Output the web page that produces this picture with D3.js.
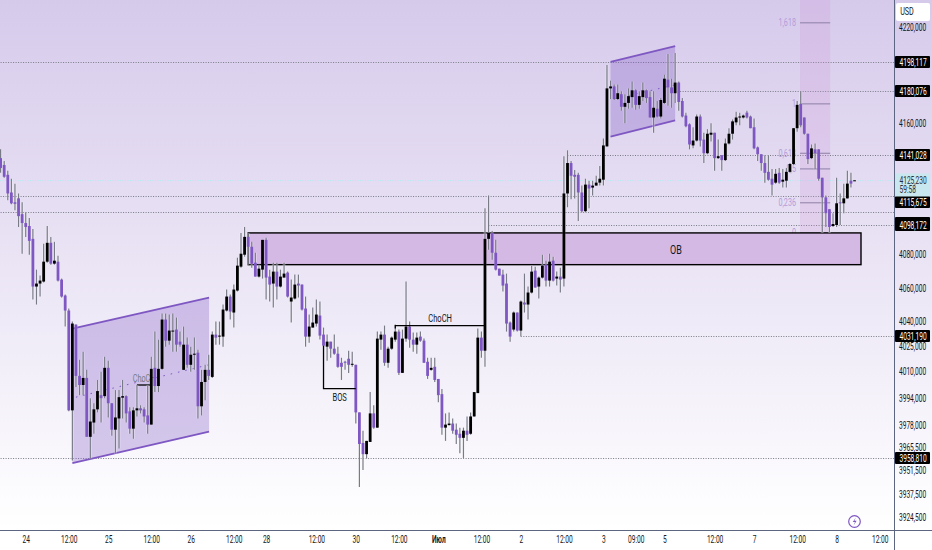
<!DOCTYPE html>
<html>
<head>
<meta charset="utf-8">
<script src="https://cdn.jsdelivr.net/npm/d3@7"></script>
<style>
  html, body { margin: 0; padding: 0; background: #fff; overflow: hidden; }
  text { font-family: Roboto, "Liberation Sans", sans-serif; }
</style>
</head>
<body>
<svg id="chart" width="932" height="550"></svg>
<script>
// Hourly candles (index 0 = leftmost candle)
const opens = [
4138.8,4134.6,4128.6,4117.8,4111.8,4114.2,4104.6,4099.2,4097.4,4089.6,
4060.8,4062.6,4063.8,4075.8,4087.2,4074.6,4075.8,4065,4055.4,4046.4,
3987,4038,4007.4,4002,4006.2,3971.4,3979.8,3987.6,3996,3995.4,
4012.2,3991.2,3975.6,3982.2,3994.5,3995.4,3986.4,3976.2,3987,3988.2,
3987.6,3984,3978.6,4012.2,4001.4,4011.6,4041,4028.4,4033.8,4035,
4027.8,4011,4026,4014,4020,4021.2,3989.4,4003.8,4011,4006.8,
4032,4030.8,4030.8,4046.4,4054.8,4045.2,4058.4,4072.8,4080,4090.8,
4084.8,4075.2,4066.8,4071,4089,4066.8,4062.6,4069.8,4060.8,4066.2,
4069.2,4051.8,4053.6,4062.6,4062,4047.6,4030.8,4036.2,4038.6,4043.4,
4032,4024.8,4027.8,4023.6,4020.6,4015.2,4015.8,4017.6,4014,4014,
3985.8,3967.8,3961.2,3968.4,3985.2,3976.8,4029,4032,4015.2,4023.6,
4029,4033.8,4009.2,4029.6,4036.8,4029,4026,4030.8,4028.4,4015.8,
4011,4012.8,4005.6,3996.6,3976.8,3978.3,3979.2,3975.6,3973.2,3970.8,
3975,3973.2,3983.4,3997.2,4030.2,4022.4,4089.6,4093.2,4081.2,4071.6,
4068,4062.6,4039.2,4035,4045.2,4034.4,4051.2,4050,4057.2,4070.4,
4060.8,4066.2,4074,4064.4,4076.4,4065.6,4066.8,4065.6,4117.2,4135.8,
4128.6,4128.6,4117.8,4106.4,4122.6,4120.8,4122,4123.8,4125.6,4146,
4181.8,4183,4175.2,4178.2,4170.4,4172.8,4176.4,4180.6,4171.6,4176.4,
4180.6,4176.4,4163.8,4169.2,4164.4,4172.8,4187.2,4182.4,4178.8,4185.4,
4174,4165,4159.6,4146.6,4149.6,4164.4,4150.2,4141.8,4153.2,4154.4,
4138.8,4140.6,4137.6,4147.8,4153.8,4160.8,4163.8,4163.8,4166.8,4164.4,
4157.8,4145.4,4141.2,4135.8,4130.4,4126.2,4123.8,4129.8,4124.4,4125,
4130.4,4135.2,4157.2,4172.2,4163.8,4153.8,4138.8,4144.2,4144.2,4126.8,
4114.8,4107.6,4097.4,4098,4111.8,4111.2,4114.2,4125,4125];
const highs = [
4144.2,4137,4131,4126.2,4123.2,4117.2,4111.8,4105.8,4102.2,4095.6,
4071,4067.4,4086.6,4097.4,4090.8,4087.8,4079.4,4065.6,4056,4047.6,
4039.8,4038,4017,4021.8,4011,3994.2,3991.2,4005,4009.8,4018.8,
4016.4,3991.2,3999,3999,4005,3996,3988.8,3988.8,4002,3990,
3988.8,4002,4018.8,4033.8,4029,4044.6,4044.6,4044,4044.6,4042.2,
4033.8,4036.8,4030.2,4024.8,4030.2,4023,4011,4014,4020,4033.8,
4039.8,4039.8,4050,4059,4056,4062,4078.2,4093.2,4096.8,4093.2,
4087.8,4081.2,4074,4089,4090.2,4071,4075.2,4075.2,4071,4075.2,
4069.8,4065,4068,4068,4062,4054.8,4044,4048.2,4053,4051.8,
4036.2,4032,4027.8,4032,4024.8,4018.2,4016.4,4022.4,4021.8,4014,
3985.8,3975,3969,3997.8,3990,4033.8,4033.8,4037.4,4024.8,4030.8,
4038,4035,4035,4063.8,4039.8,4033.2,4033.2,4033.8,4029.6,4018.2,
4018.2,4018.2,4005.6,3999.6,3985.2,3985.8,3982.2,3979.2,3976.8,3976.8,
3983.4,3985.8,3997.8,4035.6,4033.8,4108.2,4116,4094.4,4089,4071.6,
4071,4068.6,4039.8,4045.8,4045.2,4052.4,4068.6,4060.8,4073.4,4072.8,
4066.8,4080,4076.4,4080.6,4078.8,4069.8,4072.2,4140,4143.6,4137,
4131.6,4129.8,4122,4126.2,4125,4125,4128,4134,4150.8,4196.3,
4186.6,4184.2,4184.2,4180,4178.2,4181.8,4186,4181.2,4180,4185.4,
4181.2,4180,4180,4174,4175.8,4190.2,4203.2,4187.8,4203.8,4186,
4175.8,4166.8,4160.2,4157.8,4165.6,4165.6,4154.4,4156.6,4160.2,4154.4,
4150.2,4140.6,4150.8,4157.2,4162.6,4167.4,4166.8,4165.6,4168,4165,
4163.2,4146,4141.2,4140.6,4140.6,4132.2,4132.2,4132.8,4132.2,4132.8,
4135.8,4157.2,4174,4180,4163.8,4153.8,4147.2,4147.8,4144.2,4126.8,
4116,4107.6,4105.2,4126.8,4117.2,4123.2,4131,4129.8,4125.23];
const lows = [
4129.8,4126.8,4113,4110.6,4107,4096.8,4080.6,4090.8,4080,4053,
4050,4054.8,4063.2,4075.2,4074,4074,4063.8,4054.2,4036.8,3986.4,
3957.5,4000.8,3996,3996,3971.4,3958.7,3973.2,3985.8,3979.8,3994.2,
3982.8,3972,3961.5,3964.5,3982.2,3979.8,3973.2,3970.2,3983.4,3985.2,
3979.8,3973.2,3978.6,3997.8,3997.8,4011,4024.8,4026,4021.8,4021.8,
4024.8,4011,4012.2,4009.8,4011,3982.2,3984,3993,4005,4006.2,
4026,4026,4024.8,4045.8,4041,4036.2,4057.8,4072.2,4078.8,4074,
4072.2,4066.8,4066.2,4065.6,4053,4051.8,4048.2,4053,4060.2,4066.2,
4054.2,4039.2,4053,4054.2,4046.4,4024.8,4027.2,4036.2,4036.8,4029,
4024.8,4016.4,4018.2,4020,4012.2,4005,4011,4009.2,4012.8,3979.2,
3942,3951.9,3958.7,3968.4,3976.2,3976.8,4023,4013.4,4012.2,4023,
4027.8,4008,4009.2,4027.8,4024.2,4021.8,4020.6,4027.8,4015.2,4005.6,
4010.4,4003.8,3991.8,3972.6,3969,3978,3973.2,3967.2,3961.8,3959,
3969,3972.6,3983.4,3997.2,4018.2,4012.8,4083,4077,4070.4,4067.4,
4057.8,4033.8,4027.8,4033.8,4033.8,4030.8,4045.2,4041,4056.6,4060.2,
4053.6,4065.6,4060.8,4060.8,4063.8,4061.4,4057.2,4060.8,4108.8,4113.6,
4114.2,4100.4,4105.8,4105.8,4108.2,4116,4122,4122,4122,4146,
4175.2,4174.6,4174.6,4168,4160.2,4169.2,4169.8,4168.6,4169.2,4174,
4172.8,4163.8,4154.4,4163.8,4163.2,4172.2,4171,4169.8,4172.8,4168,
4163.8,4157.8,4144.2,4144.8,4149,4146,4135.8,4141.2,4149,4131,
4138.2,4131,4137,4147.2,4150.2,4159,4159,4163.2,4163.2,4157.2,
4144.2,4137,4131,4123.8,4125,4116,4123.2,4123.2,4120.8,4120.8,
4129.8,4134.6,4155,4157.8,4153.2,4135.2,4138.2,4132.2,4125,4093.2,
4096.8,4093.2,4096.8,4096.8,4098,4105.2,4114.2,4120.8,4124.9];
const closes = [
4132.8,4127.4,4117.2,4111.2,4110.9,4103.4,4099.2,4096.8,4088.4,4060.8,
4062.6,4064.4,4075.8,4087.2,4074.6,4076.4,4064.4,4054.8,4046.4,3987,
4038.6,4007.4,4002,4006.2,3971.4,3980.4,3987.6,3998.4,3994.2,4012.2,
3991.2,3975.6,3982.8,3994.8,3995.4,3985.2,3976.2,3987,3988.2,3987,
3983.4,3978.6,4011.6,4001.4,4011.6,4041,4028.4,4034.4,4034.4,4026,
4026,4026,4014,4020,4020.6,3989.4,4003.8,4011,4007.4,4032,
4030.2,4031.4,4047,4054.8,4045.8,4059,4073.4,4080.6,4090.8,4084.8,
4074.6,4066.8,4071.6,4089,4066.2,4062,4069.8,4060.8,4066.8,4068.6,
4054.8,4054.2,4062,4061.4,4047,4030.8,4036.8,4039.2,4044,4031.4,
4025.4,4027.8,4023.6,4020.6,4012.8,4012.8,4015.2,4014,4014.6,3985.8,
3967.2,3961.2,3969,3985.2,3976.8,4029.6,4032,4015.2,4023.6,4030.2,
4033.8,4009.2,4029.6,4036.8,4029,4026,4030.2,4028.4,4015.2,4007.4,
4012.2,4005,3996,3976.8,3978.6,3979.2,3975,3972.6,3970.8,3975,
3972.6,3983.4,3997.8,4030.2,4022.4,4089.6,4093.2,4081.2,4071,4067.4,
4061.4,4038.6,4030.8,4045.2,4034.4,4051.8,4050,4057.2,4069.8,4060.2,
4066.2,4073.4,4064.4,4075.8,4064.4,4066.8,4065,4117.2,4135.8,4128,
4127.4,4117.8,4106.4,4122.6,4120.2,4122,4123.8,4126.2,4146.6,4181.8,
4183,4175.2,4178.8,4170.4,4172.8,4177,4180.6,4171.6,4177,4180.6,
4175.8,4163.8,4169.8,4164.4,4174.6,4187.8,4182.4,4178.8,4185.4,4173.4,
4164.4,4158.4,4147.2,4149.6,4164.4,4149.6,4141.8,4153.8,4154.4,4138.8,
4140,4137.6,4147.8,4153.8,4161.4,4163.8,4164.4,4165,4163.8,4157.2,
4144.8,4141.2,4135.8,4129.8,4125.6,4122.6,4129.2,4123.8,4125.6,4130.4,
4135.2,4157.2,4171.6,4159,4153.8,4138.2,4144.8,4141.8,4126.2,4114.8,
4105.2,4096.8,4098.6,4111.2,4111.2,4114.2,4123.2,4123.2,4125.23];

// Axis ticks
const xTickIndex = [7,19,30,42,53,65,74,88,99,111,122,134,145,157,168,177,185,199,210,222,233,245];
const xTickLabels = ["24","12:00","25","12:00","26","12:00","28","12:00","30","12:00","Июл","12:00","2","12:00","3","09:00","5","12:00","7","12:00","8","12:00"];
const yTicks = [4220,4160,4080,4060,4040,4025,4010,3994,3978,3965.5,3951.5,3937.5,3924.5];

// Dotted price levels and the candle they start from
const levelPrices = [4198.117,4180.076,4141.028,4115.675,4105.8,4098.172,4031.19,3958.81];
const levelStarts = [0,188,158,0,0,136,145,0];
const lastPrice = 4125.23;
const countdown = "59:58";

// Black price tags on the axis (tag text is the level; nudge = label pushed off its level)
const tagPrices = [4198.117,4180.076,4141.028,4105.8,4115.675,4098.172,4031.19,3958.81];
const tagNudge = [0,0,0,11,6,0,0,0];

// Drawings, [candle index, price]
const channelA = [[20,4035.6],[58.1,4054.2],[58.1,3974.4],[20,3956]];
const channelAMid = [[21,3994.8],[58,4014]];
const channelB = [[170,4198.2],[188,4208.1],[188,4162],[170,4152]];
const channelBMid = [[171,4175.2],[188,4184]];
const chochSmall = [[38,4002],[42,4002]];
const chochBig = [[110,4035.6],[110,4037.4],[135,4037.4]];
const bosLine = [[90,4025.4],[90,3999.8],[99,3999.8]];
const obBox = [[69,4093.2],[239.8,4074]];

// Fibonacci block
const fibIndex = [222.8,231.2];
const fibTop = 4237;
const fibPrices = [4222.6,4172.2,4141.8,4132.2,4111.5,4093.2];
const fibLabels = ["1,618","1","0,618","0,5","0,236","0"];

const width = 932, height = 550, axisX = 894, axisY = 530;
const purple = "#7e57c2", wick = "#787b86", axisColor = "#5d6680";

const svg = d3.select("#chart");

const x = d3.scaleLinear().domain([0, 238]).range([0.6, 0.6 + 238 * 3.588]);
const y = d3.scaleLog().domain([4220, 3924.5]).range([27, 517]);

// Background
const defs = svg.append("defs");
const grad = defs.append("linearGradient").attr("id", "bg")
    .attr("x1", 0).attr("y1", 0).attr("x2", 0).attr("y2", 1);
grad.append("stop").attr("offset", "0%").attr("stop-color", "#d6caeb");
grad.append("stop").attr("offset", "100%").attr("stop-color", "#ffffff");
svg.append("rect").attr("width", width).attr("height", axisY).attr("fill", "url(#bg)");

const line = d3.line().x(d => x(d[0])).y(d => y(d[1]));

// Squeeze text horizontally, the labels in the picture are narrower than the fonts here
function narrow(sel, k) {
    k = k || 0.66;
    sel.each(function () {
        const t = d3.select(this);
        t.attr("x", (+t.attr("x") || 0) / k).attr("transform", `scale(${k},1)`);
    });
}

// Dotted levels
svg.append("g").selectAll("line")
    .data(levelPrices)
    .enter().append("line")
    .attr("x1", (d, i) => x(levelStarts[i]))
    .attr("x2", axisX)
    .attr("y1", d => Math.round(y(d)) + 0.5)
    .attr("y2", d => Math.round(y(d)) + 0.5)
    .attr("stroke", wick)
    .attr("stroke-dasharray", "1 1.5");
svg.append("line")
    .attr("x1", 0).attr("x2", axisX)
    .attr("y1", Math.round(y(lastPrice)) + 0.5).attr("y2", Math.round(y(lastPrice)) + 0.5)
    .attr("stroke", "#b2ebf2").attr("stroke-dasharray", "1 1.5");

// Fib block
svg.append("rect")
    .attr("x", x(fibIndex[0]))
    .attr("y", y(fibTop))
    .attr("width", x(fibIndex[1]) - x(fibIndex[0]))
    .attr("height", y(fibPrices[5]) - y(fibTop))
    .attr("fill", "#ce93d8").attr("fill-opacity", 0.22);
svg.append("g").selectAll("line")
    .data(fibPrices)
    .enter().append("line")
    .attr("x1", x(fibIndex[0]))
    .attr("x2", x(fibIndex[1]))
    .attr("y1", d => y(d))
    .attr("y2", d => y(d))
    .attr("stroke", "#8d7fa6").attr("stroke-width", 1);
svg.append("g").selectAll("text")
    .data(fibPrices)
    .enter().append("text")
    .attr("x", x(fibIndex[0]) - 4)
    .attr("y", d => y(d) + 3.5)
    .attr("text-anchor", "end")
    .attr("font-size", 10)
    .attr("fill", "#b39ddb")
    .text((d, i) => fibLabels[i])
    .call(narrow, 0.72);

// Channels
[[channelA, channelAMid], [channelB, channelBMid]].forEach(c => {
    svg.append("path")
        .attr("d", line(c[0]) + "Z")
        .attr("fill", purple).attr("fill-opacity", 0.3);
    svg.append("path").attr("d", line(c[0].slice(0, 2)))
        .attr("fill", "none").attr("stroke", purple).attr("stroke-width", 1.8);
    svg.append("path").attr("d", line(c[0].slice(2)))
        .attr("fill", "none").attr("stroke", purple).attr("stroke-width", 1.8);
    svg.append("path").attr("d", line(c[1]))
        .attr("fill", "none").attr("stroke", purple).attr("stroke-width", 1)
        .attr("stroke-dasharray", "1.5 6");
});

// OB box
svg.append("rect")
    .attr("x", x(obBox[0][0]))
    .attr("y", y(obBox[0][1]))
    .attr("width", x(obBox[1][0]) - x(obBox[0][0]))
    .attr("height", y(obBox[1][1]) - y(obBox[0][1]))
    .attr("fill", "#d5b9e5")
    .attr("stroke", "#000").attr("stroke-width", 1.4);

// Small ChoCH in the channel sits under the candles
svg.append("text")
    .attr("x", x(40)).attr("y", 382)
    .attr("text-anchor", "middle").attr("font-size", 10).attr("fill", "#787b86")
    .text("ChoCH").call(narrow, 0.72);
svg.append("path").attr("d", line(chochSmall))
    .attr("fill", "none").attr("stroke", "#000").attr("stroke-width", 1.3);

// Candles, the soft white edge follows the halo around the marks in the picture
const candles = svg.append("g").selectAll("g")
    .data(opens.map((o, i) => i))
    .enter().append("g");
candles.append("line")
    .attr("x1", i => x(i)).attr("x2", i => x(i))
    .attr("y1", i => y(highs[i])).attr("y2", i => y(lows[i]))
    .attr("stroke", "#fff").attr("stroke-opacity", 0.3).attr("stroke-width", 3);
candles.append("line")
    .attr("x1", i => x(i)).attr("x2", i => x(i))
    .attr("y1", i => y(highs[i])).attr("y2", i => y(lows[i]))
    .attr("stroke", wick).attr("stroke-width", 1.2);
candles.append("rect")
    .attr("x", i => x(i) - 1.4)
    .attr("width", 2.8)
    .attr("y", i => y(Math.max(opens[i], closes[i])))
    .attr("height", i => Math.max(1, Math.abs(y(opens[i]) - y(closes[i]))))
    .attr("fill", i => closes[i] >= opens[i] ? "#000" : purple);

// Structure lines and their text, over the candles
[chochBig, bosLine].forEach(l => {
    svg.append("path").attr("d", line(l))
        .attr("fill", "none").attr("stroke", "#000").attr("stroke-width", 1.3);
});
svg.append("text")
    .attr("x", x(122.5)).attr("y", 322)
    .attr("text-anchor", "middle").attr("font-size", 10.5).attr("fill", "#131722")
    .text("ChoCH").call(narrow, 0.72);
svg.append("text")
    .attr("x", x(94.5)).attr("y", 401)
    .attr("text-anchor", "middle").attr("font-size", 10.5).attr("fill", "#131722")
    .text("BOS").call(narrow, 0.72);
svg.append("text")
    .attr("x", 676).attr("y", 254.5)
    .attr("text-anchor", "middle").attr("font-size", 12).attr("fill", "#131722")
    .text("OB").call(narrow, 0.75);

// Axes
const xAxis = svg.append("g")
    .attr("transform", `translate(0,${axisY})`)
    .call(d3.axisBottom(x).tickValues(xTickIndex).tickFormat((d, i) => xTickLabels[i]).tickSize(0));
xAxis.select(".domain").remove();
xAxis.selectAll("text")
    .attr("y", 6).attr("font-size", 10).attr("font-family", "Roboto").attr("fill", "#131722")
    .attr("font-weight", (d, i) => xTickLabels[i] === "Июл" ? 700 : 400)
    .call(narrow);

const yAxis = svg.append("g")
    .attr("transform", `translate(${axisX},0)`)
    .call(d3.axisRight(y).tickValues(yTicks)
        .tickFormat(d => d3.format(".3f")(d).replace(".", ",")).tickSize(0));
yAxis.select(".domain").remove();
yAxis.selectAll("text")
    .attr("x", 5).attr("font-size", 10).attr("font-family", "Roboto").attr("fill", "#131722")
    .call(narrow);

svg.append("line").attr("x1", 0).attr("x2", width).attr("y1", axisY + 0.5).attr("y2", axisY + 0.5)
    .attr("stroke", axisColor);
svg.append("line").attr("x1", axisX + 0.5).attr("x2", axisX + 0.5).attr("y1", 0).attr("y2", height)
    .attr("stroke", axisColor);

// Price tags
const tags = svg.append("g").selectAll("g")
    .data(tagPrices)
    .enter().append("g")
    .attr("transform", (d, i) => `translate(${axisX + 1},${Math.round(y(d)) + tagNudge[i]})`);
tags.append("rect")
    .attr("y", -6).attr("width", 35).attr("height", 12).attr("rx", 1).attr("fill", "#000");
tags.append("text")
    .attr("x", 4.5).attr("y", 3.5).attr("font-size", 10).attr("fill", "#fff")
    .text(d => d3.format(".3f")(d).replace(".", ","))
    .call(narrow);

// Last price tag with the countdown
const lastTag = svg.append("g").attr("transform", `translate(${axisX + 1},${Math.round(y(lastPrice))})`);
lastTag.append("rect").attr("y", -6.5).attr("width", 35).attr("height", 23).attr("fill", "#c9e7ee");
lastTag.append("text").attr("x", 4.5).attr("y", 3.5).attr("font-size", 10).attr("fill", "#2a2e39")
    .text(d3.format(".3f")(lastPrice).replace(".", ",")).call(narrow);
lastTag.append("text").attr("x", 4.5).attr("y", 13).attr("font-size", 10).attr("fill", "#2a2e39")
    .text(countdown).call(narrow);
tags.filter((d, i) => i === 4).raise();

// USD button
svg.append("rect").attr("x", 896).attr("y", 3).attr("width", 34).attr("height", 18).attr("rx", 2)
    .attr("fill", "#fff");
svg.append("text").attr("x", 907).attr("y", 15.5).attr("text-anchor", "middle")
    .attr("font-size", 10).attr("fill", "#131722").text("USD").call(narrow, 0.72);

// Lightning badge
svg.append("circle").attr("cx", 854.5).attr("cy", 521.5).attr("r", 5.8)
    .attr("fill", "none").attr("stroke", purple).attr("stroke-width", 1.2);
svg.append("path").attr("d", "M855.8 517.5 L852.8 522 L855 522 L853.6 525.5 L856.6 520.8 L854.4 520.8 Z")
    .attr("fill", purple);
</script>
</body>
</html>
